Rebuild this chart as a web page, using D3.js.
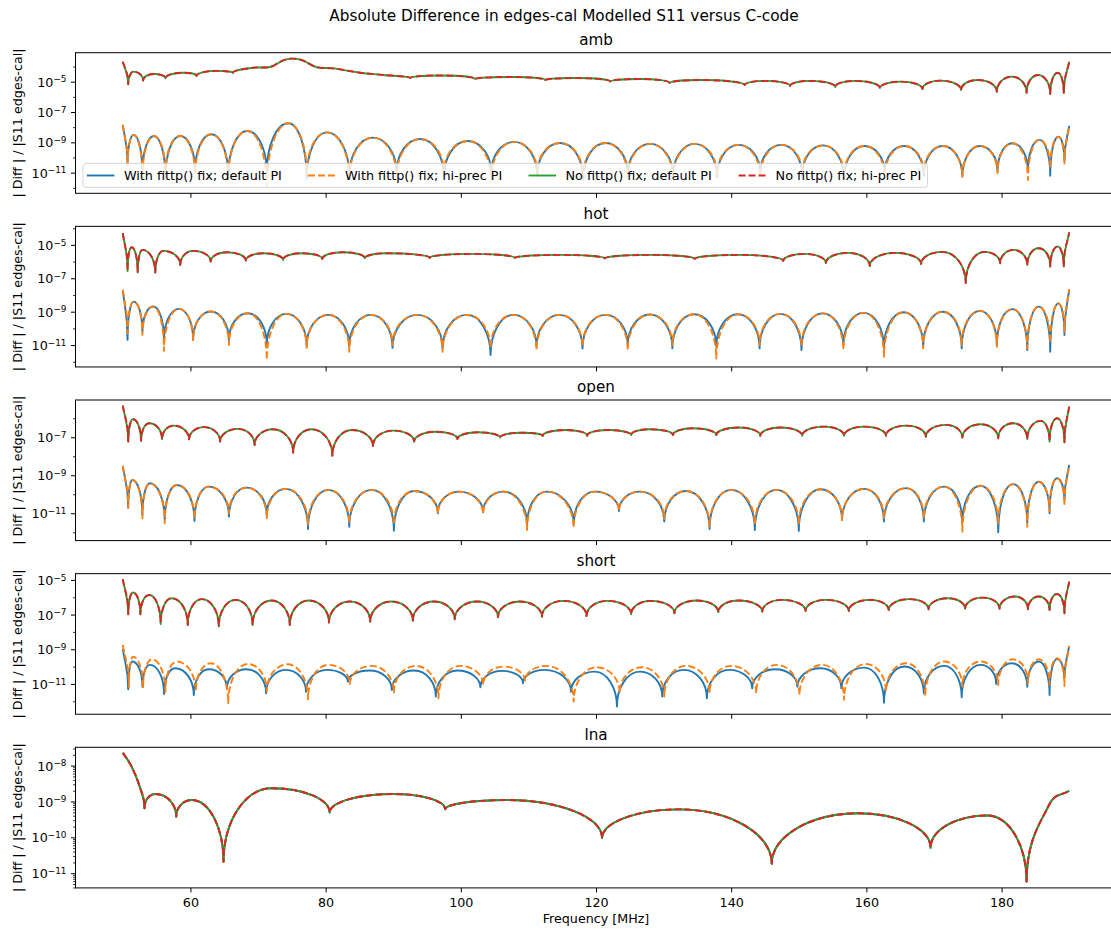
<!DOCTYPE html>
<html>
<head>
<meta charset="utf-8">
<script src="https://cdn.jsdelivr.net/npm/d3@7"></script>
<style>
  body { margin: 0; background: #fff; }
  text { font-family: "DejaVu Sans", sans-serif; }
</style>
</head>
<body>
<script>
// ---- data: frequency [MHz] and log10 of |Diff| / |S11| ----
const xTicks = [60, 80, 100, 120, 140, 160, 180];
const legendLabels = ["With fittp() fix; default PI", "With fittp() fix; hi-prec PI",
                      "No fittp() fix; default PI", "No fittp() fix; hi-prec PI"];

// amb
const ambNoFixF = [50.0, 50.8, 51.6, 53.0, 54.6, 56.3, 58.9, 60.9, 63.9, 66.3, 69.3, 71.8, 75.1, 78.7, 81.1, 85.1, 88.5, 92.5, 96.9, 102.1, 107.3, 112.5, 116.9, 122.1, 126.5, 130.9, 135.4, 142.0, 145.0, 148.7, 151.7, 155.4, 158.3, 162.0, 165.0, 168.3, 170.9, 174.0, 176.5, 179.3, 181.5, 183.7, 185.4, 187.2, 188.3, 189.2, 190.0];
const ambNoFixE = [-3.68, -5.17, -4.34, -4.93, -4.49, -4.78, -4.41, -4.62, -4.29, -4.41, -4.08, -4.03, -3.48, -4.05, -4.12, -4.41, -4.56, -4.76, -4.59, -4.82, -4.69, -4.89, -4.76, -4.99, -4.82, -5.09, -4.89, -5.22, -4.95, -5.28, -4.95, -5.35, -4.95, -5.42, -5.0, -5.48, -4.93, -5.55, -4.89, -5.66, -4.67, -5.73, -4.56, -5.81, -4.41, -5.73, -3.68];
const ambFixF = [50.0, 50.7, 51.6, 52.9, 54.6, 56.3, 58.5, 60.7, 63.1, 65.6, 68.4, 71.3, 74.5, 77.2, 80.2, 83.5, 87.0, 90.5, 94.0, 97.5, 101.0, 104.5, 107.9, 111.3, 114.7, 118.1, 121.4, 124.7, 128.0, 131.4, 134.6, 137.9, 141.1, 144.3, 147.4, 150.5, 153.6, 156.7, 159.7, 162.7, 165.6, 168.5, 171.3, 174.2, 176.8, 179.4, 181.6, 183.9, 185.6, 187.2, 188.4, 189.3, 190.0];
const ambFixBlueE = [-7.85, -10.4, -8.51, -11.0, -8.58, -11.3, -8.58, -10.9, -8.47, -11.2, -8.25, -11.0, -7.74, -11.4, -8.34, -11.2, -8.69, -11.0, -8.78, -11.3, -8.91, -11.0, -8.97, -11.2, -9.04, -11.4, -9.04, -11.1, -9.1, -11.2, -9.1, -11.3, -9.17, -11.0, -9.17, -11.2, -9.2, -11.4, -9.24, -11.0, -9.24, -11.2, -9.24, -11.26, -9.24, -10.9, -9.06, -10.9, -8.84, -11.2, -8.63, -10.2, -7.92];
const ambFixOrangeE = [-7.85, -10.5, -8.51, -11.3, -8.58, -11.0, -8.58, -11.2, -8.47, -11.4, -8.25, -11.9, -7.74, -11.1, -8.34, -11.4, -8.69, -11.3, -8.78, -11.0, -8.91, -11.4, -8.97, -11.0, -9.04, -11.2, -9.04, -11.3, -9.1, -11.4, -9.1, -11.1, -9.17, -11.3, -9.17, -11.0, -9.2, -11.2, -9.24, -11.3, -9.24, -11.0, -9.24, -11.26, -9.24, -11.03, -9.06, -11.48, -8.84, -10.7, -8.63, -10.4, -7.92];

// hot
const hotNoFixF = [50.0, 50.7, 51.3, 52.2, 52.9, 54.8, 56.0, 58.5, 60.4, 63.0, 65.4, 68.2, 70.8, 73.7, 76.5, 79.5, 82.6, 85.8, 89.0, 95.4, 101.4, 108.0, 114.7, 121.3, 128.0, 134.6, 141.3, 147.7, 150.9, 154.0, 157.3, 160.5, 164.2, 168.1, 171.2, 174.7, 177.5, 179.8, 181.8, 183.8, 185.5, 187.2, 188.3, 189.2, 190.0];
const hotNoFixE = [-4.30, -6.56, -5.14, -6.66, -5.30, -6.66, -5.36, -6.20, -5.36, -6.0, -5.44, -5.94, -5.50, -5.90, -5.50, -5.84, -5.44, -5.80, -5.50, -5.78, -5.54, -5.78, -5.60, -5.81, -5.60, -5.84, -5.60, -5.96, -5.54, -6.08, -5.48, -6.26, -5.48, -6.14, -5.42, -7.28, -5.42, -6.1, -5.3, -6.2, -5.2, -6.3, -5.1, -6.3, -4.25];
const hotFixF = [50.0, 50.7, 51.6, 52.9, 54.5, 56.1, 58.3, 60.4, 63.0, 65.7, 68.5, 71.3, 74.2, 77.2, 80.4, 83.5, 86.7, 89.9, 93.6, 97.3, 100.9, 104.4, 107.8, 111.2, 114.6, 118.0, 121.4, 124.7, 128.0, 131.3, 134.5, 137.8, 141.0, 144.2, 147.3, 150.4, 153.5, 156.6, 159.6, 162.6, 165.5, 168.4, 171.3, 174.1, 176.8, 179.3, 181.6, 183.8, 185.5, 187.2, 188.4, 189.3, 190.0];
const hotFixBlueE = [-7.69, -10.69, -8.40, -10.2, -8.69, -10.69, -8.83, -10.69, -8.99, -10.7, -9.09, -10.99, -9.13, -11.05, -9.19, -11.05, -9.19, -11.17, -9.19, -11.2, -9.19, -11.6, -9.19, -11.1, -9.19, -11.2, -9.19, -11.0, -9.17, -11.2, -9.15, -11.1, -9.15, -11.2, -9.13, -11.3, -9.1, -11.0, -9.07, -11.2, -9.03, -11.1, -9.0, -11.2, -8.95, -11.0, -8.85, -11.3, -8.7, -11.4, -8.5, -10.4, -7.66];
const hotFixOrangeE = [-7.69, -10.3, -8.40, -10.39, -8.69, -11.35, -8.83, -10.69, -8.99, -10.99, -9.09, -11.89, -9.13, -11.17, -9.19, -11.4, -9.19, -11.0, -9.19, -11.4, -9.19, -11.2, -9.19, -11.3, -9.19, -11.1, -9.19, -11.3, -9.17, -11.0, -9.15, -11.8, -9.15, -11.0, -9.13, -11.1, -9.1, -11.3, -9.07, -11.7, -9.03, -11.2, -9.0, -11.0, -8.95, -11.1, -8.85, -11.2, -8.7, -10.9, -8.5, -10.2, -7.66];

// open
const openNoFixF = [50.0, 50.8, 51.5, 52.7, 53.9, 55.8, 57.5, 59.8, 62.0, 64.4, 67.0, 69.5, 72.2, 75.2, 77.9, 81.0, 83.9, 87.0, 90.0, 93.1, 96.3, 99.5, 102.6, 105.8, 109.0, 112.1, 115.5, 118.7, 121.7, 125.2, 127.9, 131.4, 134.3, 137.8, 141.1, 144.3, 147.3, 150.5, 153.7, 156.7, 159.7, 162.9, 165.9, 168.8, 171.8, 174.2, 176.9, 179.5, 181.7, 183.8, 185.8, 187.1, 188.2, 189.3, 190.0];
const openNoFixE = [-5.34, -7.23, -6.05, -7.19, -6.26, -7.11, -6.39, -7.11, -6.47, -7.23, -6.56, -7.41, -6.58, -7.81, -6.58, -7.97, -6.62, -7.46, -6.65, -7.23, -6.71, -7.09, -6.74, -7.02, -6.76, -6.93, -6.62, -6.92, -6.62, -6.88, -6.58, -6.88, -6.53, -6.88, -6.49, -6.92, -6.49, -6.92, -6.44, -6.92, -6.44, -6.92, -6.39, -6.97, -6.35, -7.02, -6.32, -7.05, -6.26, -7.09, -6.14, -7.23, -6.0, -7.26, -5.39];
const openFixF = [50.0, 50.8, 51.4, 52.9, 54.0, 56.2, 58.0, 60.6, 62.7, 65.7, 68.3, 71.3, 74.1, 77.4, 80.4, 83.5, 86.8, 90.1, 93.1, 96.6, 99.7, 103.3, 106.3, 109.8, 112.7, 116.7, 119.8, 123.4, 126.5, 130.1, 133.3, 136.8, 140.0, 143.5, 146.7, 150.0, 153.2, 156.4, 159.7, 162.6, 165.9, 168.5, 171.5, 174.2, 176.9, 179.5, 181.7, 183.8, 185.5, 187.1, 188.2, 189.3, 190.0];
const openFixBlueE = [-8.51, -10.71, -9.25, -11.09, -9.42, -11.36, -9.51, -11.41, -9.60, -11.18, -9.65, -11.1, -9.72, -11.83, -9.77, -11.71, -9.77, -11.92, -9.83, -11.0, -9.86, -10.95, -9.86, -11.6, -9.86, -11.55, -9.86, -10.88, -9.86, -11.44, -9.83, -11.83, -9.77, -11.88, -9.77, -11.93, -9.74, -11.35, -9.72, -11.44, -9.68, -11.44, -9.60, -11.5, -9.55, -12.0, -9.47, -11.5, -9.34, -11.0, -9.16, -10.3, -8.46];
const openFixOrangeE = [-8.51, -10.71, -9.25, -11.26, -9.42, -11.53, -9.51, -11.3, -9.60, -11.0, -9.65, -11.26, -9.72, -11.6, -9.77, -11.55, -9.77, -11.6, -9.83, -11.05, -9.86, -11.05, -9.86, -11.88, -9.86, -11.79, -9.86, -10.88, -9.86, -11.3, -9.83, -11.7, -9.77, -11.6, -9.77, -11.6, -9.74, -11.35, -9.72, -11.3, -9.68, -11.3, -9.60, -11.97, -9.55, -11.6, -9.47, -11.71, -9.34, -10.9, -9.16, -10.6, -8.46];

// short
const shortNoFixF = [50.0, 50.8, 51.5, 52.6, 53.9, 55.6, 57.2, 59.6, 61.7, 64.2, 66.7, 69.2, 72.0, 74.7, 77.5, 80.5, 83.6, 86.6, 89.7, 92.9, 96.0, 99.1, 102.4, 105.5, 108.7, 112.0, 115.2, 118.6, 121.7, 125.2, 128.1, 131.6, 134.9, 138.1, 141.1, 144.6, 147.5, 151.0, 154.0, 157.4, 160.5, 163.3, 166.4, 169.2, 172.1, 174.6, 177.2, 179.7, 182.0, 183.9, 185.5, 187.1, 188.2, 189.3, 190.0];
const shortNoFixE = [-4.96, -6.98, -5.73, -6.98, -5.87, -7.54, -6.06, -7.60, -6.11, -7.69, -6.15, -7.60, -6.19, -7.60, -6.19, -7.46, -6.25, -7.41, -6.25, -7.35, -6.25, -7.27, -6.25, -7.15, -6.25, -7.12, -6.21, -7.08, -6.21, -6.98, -6.21, -6.92, -6.19, -6.86, -6.19, -6.83, -6.15, -6.79, -6.15, -6.79, -6.15, -6.73, -6.11, -6.69, -6.06, -6.67, -6.02, -6.67, -5.96, -6.69, -5.96, -6.73, -5.81, -6.92, -5.10];
const shortFixBlueF = [50.0, 50.8, 51.4, 52.9, 54.0, 56.1, 57.7, 60.5, 62.7, 65.4, 68.3, 71.2, 74.1, 77.1, 80.2, 83.3, 86.5, 89.8, 93.1, 96.3, 99.5, 102.9, 106.1, 109.2, 112.4, 116.3, 119.8, 123.1, 126.5, 129.8, 133.0, 136.4, 139.7, 143.1, 146.5, 149.8, 153.2, 156.3, 159.7, 162.6, 165.6, 168.5, 171.5, 174.1, 176.9, 179.2, 181.5, 183.8, 185.5, 187.1, 188.2, 189.3, 190.0];
const shortFixBlueE = [-9.0, -11.31, -9.71, -11.16, -9.90, -11.58, -10.10, -11.64, -10.15, -11.25, -10.15, -11.54, -10.19, -11.45, -10.19, -10.87, -10.23, -11.35, -10.23, -11.73, -10.23, -11.19, -10.25, -10.96, -10.19, -11.45, -10.29, -12.31, -10.29, -11.73, -10.19, -11.83, -10.19, -11.25, -10.15, -11.16, -10.10, -11.25, -10.06, -12.08, -10.0, -11.54, -9.96, -11.77, -9.90, -11.0, -9.81, -11.16, -9.71, -11.64, -9.57, -10.67, -8.81];
const shortFixOrangeF = [50.0, 50.9, 51.5, 53.0, 54.3, 56.3, 58.0, 60.8, 63.0, 65.6, 68.5, 71.3, 74.4, 77.4, 80.4, 83.6, 86.8, 90.1, 93.4, 96.7, 99.9, 103.3, 106.3, 109.5, 112.7, 116.7, 120.1, 123.5, 126.8, 130.1, 133.3, 136.8, 140.0, 143.7, 146.7, 150.1, 153.5, 156.7, 159.9, 162.9, 165.9, 168.7, 171.5, 174.2, 176.9, 179.5, 181.7, 183.9, 185.5, 187.1, 188.2, 189.3, 190.0];
const shortFixOrangeE = [-8.75, -11.16, -9.43, -11.19, -9.58, -11.45, -9.71, -11.45, -9.81, -12.12, -9.85, -11.41, -9.87, -11.88, -9.90, -11.0, -9.96, -11.50, -9.96, -11.83, -9.96, -11.06, -10.0, -10.81, -9.96, -12.02, -10.04, -11.54, -10.04, -11.73, -9.96, -11.54, -9.96, -11.54, -9.90, -11.64, -9.90, -11.92, -9.85, -11.45, -9.81, -11.73, -9.71, -11.16, -9.71, -11.06, -9.58, -10.96, -9.58, -11.06, -9.52, -11.12, -8.81];

// lna (all four runs coincide)
const lnaF = [50.0, 51.3, 52.5, 53.2, 54.8, 57.9, 60.2, 64.9, 72.0, 80.6, 90.0, 97.7, 106.8, 120.9, 132.3, 146.0, 158.8, 169.5, 177.9, 183.7, 186.9, 190.0];
const lnaE = [-7.64, -8.03, -8.59, -9.19, -8.79, -9.42, -8.96, -10.68, -8.63, -9.31, -8.79, -9.22, -8.96, -10.02, -9.22, -10.74, -9.33, -10.29, -9.39, -11.23, -9.14, -8.70];

// ---- layout ----
const W = 1111, H = 930;
const left = 75.5, right = 1116.5, panelH = 140.6, panelStep = 173.65, firstTop = 52.7;
const C = { blue: "#1f77b4", orange: "#ff7f0e", green: "#2ca02c", red: "#d62728" };
const DASH = "7,3";
const LW = 1.9;

const panels = [
  { name: "amb",   exp: [-12.36, -3.09], stride: 2,
    series: [[ambFixF, ambFixBlueE], [ambFixF, ambFixOrangeE], [ambNoFixF, ambNoFixE], [ambNoFixF, ambNoFixE]] },
  { name: "hot",   exp: [-12.31, -3.89], stride: 2,
    series: [[hotFixF, hotFixBlueE], [hotFixF, hotFixOrangeE], [hotNoFixF, hotNoFixE], [hotNoFixF, hotNoFixE]] },
  { name: "open",  exp: [-12.44, -5.04], stride: 2,
    series: [[openFixF, openFixBlueE], [openFixF, openFixOrangeE], [openNoFixF, openNoFixE], [openNoFixF, openNoFixE]] },
  { name: "short", exp: [-12.75, -4.64], stride: 2,
    series: [[shortFixBlueF, shortFixBlueE], [shortFixOrangeF, shortFixOrangeE], [shortNoFixF, shortNoFixE], [shortNoFixF, shortNoFixE]] },
  { name: "lna",   exp: [-11.41, -7.49], stride: 1,
    series: [[lnaF, lnaE], [lnaF, lnaE], [lnaF, lnaE], [lnaF, lnaE]] }
];
const styles = [
  { color: C.blue, dash: null }, { color: C.orange, dash: DASH },
  { color: C.green, dash: null }, { color: C.red, dash: DASH }
];

// curve: sharp (vertical) entry into minima, rounded (horizontal) maxima
function archCurve(context) {
  let xs, ys;
  return {
    areaStart() {}, areaEnd() {},
    lineStart() { xs = []; ys = []; },
    point(px, py) { xs.push(+px); ys.push(+py); },
    lineEnd() {
      const n = xs.length;
      if (!n) return;
      const kind = i => {
        if (i === 0 || i === n - 1) return "end";
        if (ys[i] > ys[i - 1] && ys[i] > ys[i + 1]) return "min";
        if (ys[i] < ys[i - 1] && ys[i] < ys[i + 1]) return "max";
        return "mid";
      };
      const ctrl = (i, j) => {
        const dx = xs[j] - xs[i], dy = ys[j] - ys[i], k = kind(i);
        if (k === "min") return [xs[i], ys[i] + 0.55 * dy];
        if (k === "max") return [xs[i] + 0.55 * dx, ys[i]];
        if (k === "mid") {
          const m = (ys[i + 1] - ys[i - 1]) / (xs[i + 1] - xs[i - 1]);
          return [xs[i] + dx / 3, ys[i] + m * dx / 3];
        }
        return [xs[i] + dx / 3, ys[i] + dy / 3];
      };
      context.moveTo(xs[0], ys[0]);
      for (let i = 0; i < n - 1; i++) {
        const a = ctrl(i, i + 1), b = ctrl(i + 1, i);
        context.bezierCurveTo(a[0], a[1], b[0], b[1], xs[i + 1], ys[i + 1]);
      }
    }
  };
}

const svg = d3.select("body").append("svg")
  .attr("width", W).attr("height", H)
  .style("background", "#fff");
const defs = svg.append("defs");

const x = d3.scaleLinear().domain([43, 197]).range([left, right]);

svg.append("text")
  .attr("x", 564).attr("y", 21)
  .attr("text-anchor", "middle").attr("font-size", 15.3)
  .text("Absolute Difference in edges-cal Modelled S11 versus C-code");

panels.forEach((p, i) => {
  const top = firstTop + i * panelStep, bottom = top + panelH;
  const y = d3.scaleLog().domain([10 ** p.exp[0], 10 ** p.exp[1]]).range([bottom, top]);
  const g = svg.append("g");

  defs.append("clipPath").attr("id", "clip" + i)
    .append("rect").attr("x", left).attr("y", top).attr("width", right - left).attr("height", panelH);

  const line = d3.line().x(d => x(d[0])).y(d => y(d[1])).curve(archCurve);
  const plot = g.append("g").attr("clip-path", `url(#clip${i})`);
  p.series.forEach(([F, E], k) => {
    plot.append("path")
      .attr("d", line(F.map((f, j) => [f, 10 ** E[j]])))
      .attr("fill", "none")
      .attr("stroke", styles[k].color)
      .attr("stroke-width", LW)
      .attr("stroke-dasharray", styles[k].dash)
      .attr("stroke-linejoin", "round");
  });

  // y axis ticks
  const lo = Math.ceil(p.exp[0]), hi = Math.floor(p.exp[1]);
  const majors = [], minors = [];
  for (let e = lo; e <= hi; e++) {
    if (p.stride === 2) (Math.abs(e) % 2 === 1 ? majors : minors).push(10 ** e);
    else majors.push(10 ** e);
  }
  if (p.stride === 1) {
    for (let e = lo - 1; e <= hi; e++) {
      for (let m = 2; m <= 9; m++) {
        const v = m * 10 ** e;
        if (Math.log10(v) >= p.exp[0] && Math.log10(v) <= p.exp[1]) minors.push(v);
      }
    }
  }
  g.append("g").attr("transform", `translate(${left},0)`)
    .call(d3.axisLeft(y).tickValues(minors).tickSize(2.5).tickFormat(""))
    .call(a => a.select(".domain").remove())
    .call(a => a.selectAll("line").attr("stroke", "#000").attr("stroke-width", 0.8));
  const ya = g.append("g").attr("transform", `translate(${left},0)`)
    .call(d3.axisLeft(y).tickValues(majors).tickSize(4.5).tickPadding(4.5).tickFormat(""))
    .attr("font-size", 12.7).attr("font-family", "DejaVu Sans");
  ya.select(".domain").remove();
  ya.selectAll("line").attr("stroke", "#000").attr("stroke-width", 1);
  ya.selectAll(".tick text").each(function (d) {
    const e = Math.round(Math.log10(d));
    const t = d3.select(this).attr("fill", "#000").attr("dy", "0.36em");
    t.append("tspan").text("10");
    t.append("tspan").attr("dy", "-0.5em").attr("font-size", 8.9).text("\u2212" + Math.abs(e));
  });

  // x axis
  const last = i === panels.length - 1;
  const xa = g.append("g").attr("transform", `translate(0,${bottom})`)
    .call(d3.axisBottom(x).tickValues(xTicks).tickSize(4.5).tickPadding(6)
      .tickFormat(last ? d3.format("d") : () => ""))
    .attr("font-size", 12.7).attr("font-family", "DejaVu Sans");
  xa.select(".domain").remove();
  xa.selectAll("line").attr("stroke", "#000").attr("stroke-width", 1);
  xa.selectAll("text").attr("fill", "#000");

  // frame
  g.append("rect").attr("x", left).attr("y", top)
    .attr("width", right - left).attr("height", panelH)
    .attr("fill", "none").attr("stroke", "#000").attr("stroke-width", 1);

  // titles
  g.append("text").attr("x", (left + right) / 2).attr("y", top - 7.6)
    .attr("text-anchor", "middle").attr("font-size", 15.2).text(p.name);
  g.append("text")
    .attr("transform", `translate(21.5,${top + panelH / 2}) rotate(-90)`)
    .attr("text-anchor", "middle").attr("font-size", 12.7)
    .text("| Diff | / |S11 edges-cal|");

  if (last) {
    g.append("text").attr("x", (left + right) / 2).attr("y", 923)
      .attr("text-anchor", "middle").attr("font-size", 12.7).text("Frequency [MHz]");
  }

  // legend in the first panel
  if (i === 0) {
    const lg = g.append("g");
    lg.append("rect").attr("x", 83).attr("y", 163.4).attr("width", 844.5).attr("height", 24)
      .attr("rx", 3).attr("fill", "#fff").attr("fill-opacity", 0.8)
      .attr("stroke", "#ccc").attr("stroke-opacity", 0.8).attr("stroke-width", 1);
    const textX = [123.9, 345, 565.5, 775.6];
    legendLabels.forEach((lab, k) => {
      const cy = 175.5;
      lg.append("line")
        .attr("x1", textX[k] - 37).attr("x2", textX[k] - 9.5)
        .attr("y1", cy).attr("y2", cy)
        .attr("stroke", styles[k].color).attr("stroke-width", LW)
        .attr("stroke-dasharray", styles[k].dash);
      lg.append("text").attr("x", textX[k]).attr("y", cy + 4.5)
        .attr("font-size", 12.8).text(lab);
    });
  }
});
</script>
</body>
</html>
